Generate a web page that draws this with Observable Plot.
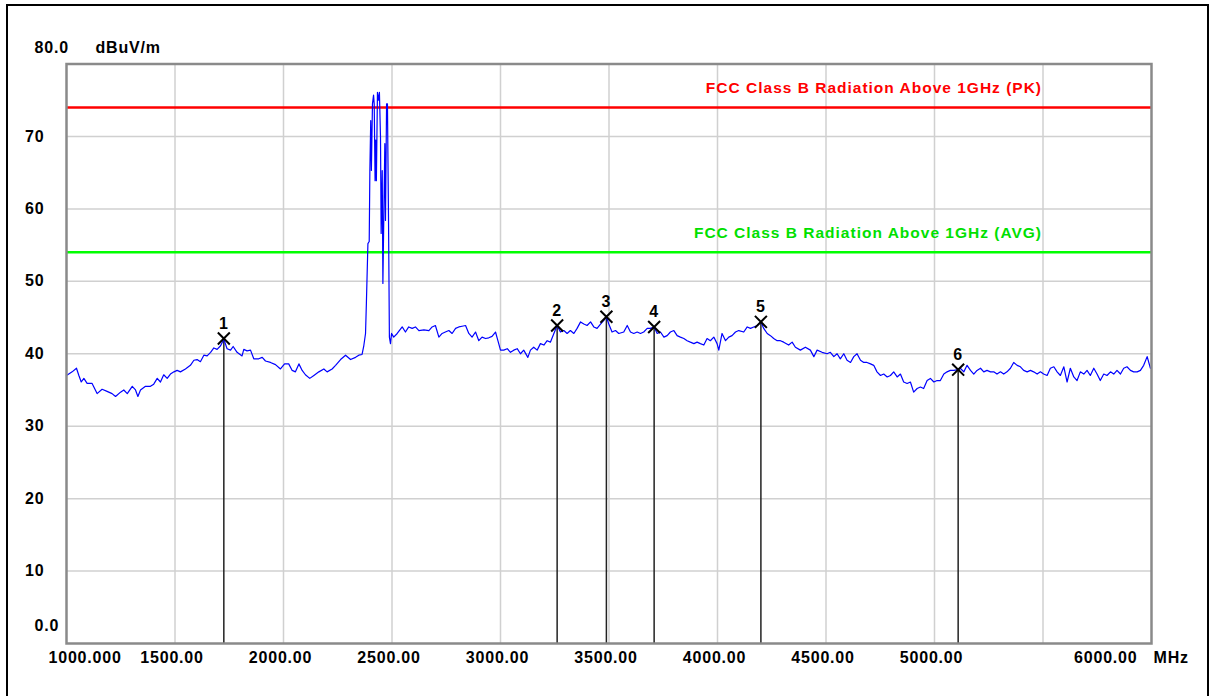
<!DOCTYPE html>
<html><head><meta charset="utf-8">
<script src="https://cdn.jsdelivr.net/npm/d3@7"></script>
<script src="https://cdn.jsdelivr.net/npm/@observablehq/plot@0.6"></script>
<style>
html,body{margin:0;padding:0;background:#fff;}
#wrap{position:relative;width:1213px;height:696px;overflow:hidden;background:#fff;}
#chart{position:absolute;left:0;top:0;}
#border{position:absolute;left:6px;top:4px;width:1203px;height:760px;border:2px solid #000;box-sizing:border-box;pointer-events:none;}
#chart svg text{letter-spacing:0.8px;}
#chart svg g.limits text{letter-spacing:1px;}
</style></head><body>
<div id="wrap"><div id="chart"></div><div id="border"></div></div>
<script>
// Spectrum trace (MHz, dBuV/m)
const freqMHz = [
1000,1026,1046,1057,1068,1080,1095,1118,1141,1164,1187,1210,1226,1249,1264,1280,1303,1318,1329,1341,
1364,1387,1402,1418,1433,1448,1464,1479,1495,1510,1525,1548,1571,1587,1602,1617,1633,1648,1664,1679,
1694,1710,1725,1740,1756,1768,1786,1809,1817,1832,1848,1863,1886,1902,1917,1940,1963,1986,2005,2024,
2040,2055,2071,2086,2101,2121,2140,2163,2186,2201,2224,2240,2263,2286,2309,2332,2347,2362,2370,
2378,2382,2389,2395,2398,2402,2405,2410,2415,2418,2422,2425,2428,2433,2438,2442,2447,2450,2455,2458,
2462,2467,2470,2475,2479,2484,2488,2493,2498,
2508,2524,2547,2562,2577,2593,2608,2624,2647,2670,2685,2700,2716,2731,2746,2762,2777,2793,2808,2823,
2839,2854,2869,2885,2900,2915,2931,2946,2961,2977,2988,3000,3015,3031,3046,3061,3077,3092,3107,3126,
3138,3153,3169,3184,3200,3215,3230,3246,3261,3276,3292,3307,3322,3338,3353,3369,3384,3399,3415,3430,
3445,3461,3476,3488,3499,3514,3530,3545,3568,3584,3599,3614,3630,3645,3660,3676,3691,3708,3722,3737,
3753,3768,3783,3799,3814,3829,3845,3860,3875,3891,3906,3921,3937,3952,3967,3983,3998,4006,4021,4037,
4052,4067,4083,4098,4121,4137,4152,4167,4183,4200,4213,4229,4244,4259,4275,4290,4305,4328,
4344,4359,4382,4405,4428,4444,4459,4482,4505,4520,4536,4551,4566,4582,4597,4613,4628,4643,4659,4674,
4689,4705,4720,4735,4751,4766,4782,4797,4812,4828,4843,4858,4874,4889,4904,4920,4935,4950,4966,4981,
4997,5012,5027,5043,5058,5073,5089,5109,5119,5135,5150,5166,5181,5196,5212,5227,5242,5258,5273,5288,
5304,5319,5334,5350,5365,5381,5396,5411,5427,5442,5457,5473,5488,5503,5519,5534,5550,5565,5580,5596,
5611,5626,5642,5657,5672,5688,5703,5718,5734,5749,5764,5780,5795,5811,5826,5841,5857,5872,5887,5903,
5918,5934,5949,5964,5980,5995,6000
];
const levelDb = [
37.0,37.5,38.0,37.0,36.1,36.6,35.9,35.9,34.5,35.1,34.8,34.5,34.1,34.7,35.0,34.5,35.5,35.0,34.1,35.0,
35.5,35.5,35.8,36.6,36.1,37.1,36.6,37.2,37.5,37.7,37.5,37.9,38.4,39.1,39.2,38.9,39.8,39.7,40.2,40.8,
40.6,41.1,42.0,40.7,40.5,41.0,40.2,39.7,40.6,40.4,40.5,39.3,39.3,39.5,39.0,38.8,38.5,37.9,38.6,38.6,
37.7,37.5,38.6,37.7,37.1,36.6,37.0,37.5,37.9,37.5,37.9,38.4,39.2,39.8,39.2,39.5,39.8,39.9,41.1,
42.8,47.0,55.2,55.5,65.3,72.2,65.3,74.5,75.7,74.5,63.9,69.5,63.9,76.1,75.0,76.1,69.9,56.6,65.3,49.7,
58.4,69.0,58.4,74.5,74.5,58.4,42.3,41.4,42.8,
42.3,42.8,43.7,43.0,43.7,43.5,43.7,43.2,43.3,43.2,43.7,43.9,42.3,42.8,43.0,43.2,42.8,43.5,43.7,43.8,
43.9,42.8,42.3,43.0,41.8,42.3,42.1,42.2,42.4,43.0,41.8,40.5,40.5,40.7,40.2,40.5,40.7,40.0,40.5,39.5,
40.5,40.9,40.5,41.4,41.2,41.8,41.6,42.8,43.9,43.0,43.2,42.8,43.2,42.8,43.5,44.4,44.1,43.9,44.4,43.7,
43.5,44.1,44.6,45.1,44.1,43.0,43.2,42.8,43.0,43.9,43.0,42.8,43.0,42.8,43.0,43.5,43.5,43.7,42.8,43.0,
42.3,42.5,43.0,43.2,42.5,42.3,42.1,41.8,41.6,41.4,41.6,41.4,41.2,42.1,41.8,42.3,41.4,40.5,42.8,41.8,
42.3,42.5,43.0,43.2,43.0,43.7,43.5,43.7,43.9,44.4,43.5,42.8,42.5,42.1,41.8,41.8,41.6,41.2,
41.6,40.9,40.5,40.9,40.5,39.6,40.5,40.2,40.0,40.2,39.6,40.0,39.3,40.0,39.1,38.8,39.6,40.0,39.1,38.8,
38.8,38.6,38.4,37.5,37.0,37.2,36.8,37.0,37.5,36.8,37.2,36.1,35.9,36.1,34.7,35.2,35.4,35.2,36.3,36.6,
36.1,36.3,36.3,37.2,37.5,37.7,37.7,37.8,38.0,37.5,38.4,37.7,37.2,37.7,38.0,37.5,37.7,37.5,37.5,37.2,
37.5,37.2,37.5,38.0,38.8,38.4,38.2,37.7,37.5,37.7,37.5,37.2,37.5,37.2,37.0,38.0,38.2,37.5,37.0,38.2,
36.1,38.0,36.8,36.3,37.5,37.2,37.7,37.0,38.0,37.2,36.3,37.2,37.0,37.5,37.2,37.7,37.2,38.0,38.2,37.7,
37.5,37.5,37.7,38.4,39.6,38.0,38.0
];

// Markers
const markerNo = ["1","2","3","4","5","6"];
const markerFreq = [1725, 3261, 3488, 3708, 4200, 5109];
const markerLevel = [42.1, 43.9, 45.1, 43.7, 44.4, 37.8];

// Limit lines
const limitName = ["FCC Class B Radiation Above 1GHz (PK)", "FCC Class B Radiation Above 1GHz (AVG)"];
const limitLevel = [74, 54];
const limitColor = ["#ff0000", "#00ff00"];
const limitTextColor = ["#ff0000", "#00e000"];

// Axes
const xGrid = [1500,2000,2500,3000,3500,4000,4500,5000,5500];
const xTickValue = [1000,1500,2000,2500,3000,3500,4000,4500,5000,6000];
const xTickLabel = ["1000.000","1500.00","2000.00","2500.00","3000.00","3500.00","4000.00","4500.00","5000.00","6000.00"];
const yTickValue = [0,10,20,30,40,50,60,70,80];
const yTickLabel = ["0.0","10","20","30","40","50","60","70","80.0"];
const xUnit = "MHz";
const yUnit = "dBuV/m";

const trace = freqMHz.map((f,i)=>({f, v: levelDb[i]}));
const markers = markerNo.map((n,i)=>({n, f: markerFreq[i], v: markerLevel[i]}));
const limits = limitName.map((name,i)=>({name, level: limitLevel[i], color: limitColor[i], tcolor: limitTextColor[i]}));
const yTicks = yTickValue.map((v,i)=>({v, label: yTickLabel[i]}));
const xTicks = xTickValue.map((v,i)=>({v, label: xTickLabel[i]}));
const yInner = yTicks.filter(d => d.v > 0 && d.v < 80);
const yBottom = yTicks.filter(d => d.v === 0);
const yTop = yTicks.filter(d => d.v === 80);
const xFirst = xTicks.slice(0,1), xMid = xTicks.slice(1,-1), xLast = xTicks.slice(-1);

const FONT = "'Liberation Sans', Arial, sans-serif";
const T = {fontFamily: FONT, fontWeight: "bold", fontSize: 16, fill: "#000"};

const chart = Plot.plot({
  width: 1213, height: 696,
  marginLeft: 66, marginRight: 62, marginTop: 63.5, marginBottom: 53,
  x: {domain: [1000, 6000], axis: null},
  y: {domain: [0, 80], axis: null},
  color: {type: "identity"},
  style: {background: "transparent", fontFamily: FONT},
  marks: [
    Plot.ruleX(xGrid, {stroke: "#d0d0d0", strokeWidth: 1.5}),
    Plot.ruleY(yInner, {y: "v", stroke: "#d0d0d0", strokeWidth: 1.5}),
    Plot.ruleY(limits, {y: "level", stroke: "color", strokeWidth: 2.5}),
    Plot.text(limits, {x: 5500, y: "level", text: "name", fill: "tcolor", textAnchor: "end", dy: -19, dx: -1, fontFamily: FONT, fontWeight: "bold", fontSize: 15.5, className: "limits"}),
    Plot.ruleX(markers, {x: "f", y1: 0, y2: "v", stroke: "#222", strokeWidth: 1.5}),
    Plot.line(trace, {x: "f", y: "v", stroke: "#0000ff", strokeWidth: 1.2}),
    Plot.dot(markers, {x: "f", y: "v", symbol: "times", r: 5.5, stroke: "#000", strokeWidth: 2}),
    Plot.text(markers, {x: "f", y: "v", text: "n", dy: -15, ...T}),
    Plot.frame({stroke: "#8a8a8a", strokeWidth: 2.5}),
    // y tick labels
    Plot.text(yInner, {x: 1000, y: "v", text: "label", dx: -22, textAnchor: "end", ...T}),
    Plot.text(yTop, {x: 1000, y: "v", text: "label", dx: -32, dy: -16, textAnchor: "start", ...T}),
    Plot.text(yBottom, {x: 1000, y: "v", text: "label", dx: -32, dy: -18, textAnchor: "start", ...T}),
    Plot.text([yUnit], {x: 1000, y: 80, text: d => d, dx: 29, dy: -16, textAnchor: "start", ...T}),
    // x tick labels
    Plot.text(xFirst, {x: "v", y: 0, text: "label", dx: -18, dy: 14, textAnchor: "start", ...T}),
    Plot.text(xMid, {x: "v", y: 0, text: "label", dx: -3, dy: 14, textAnchor: "middle", ...T}),
    Plot.text(xLast, {x: "v", y: 0, text: "label", dx: -14, dy: 14, textAnchor: "end", ...T}),
    Plot.text([xUnit], {x: 6000, y: 0, text: d => d, dx: 2, dy: 14, textAnchor: "start", ...T})
  ]
});
document.getElementById("chart").appendChild(chart);
</script>
</body></html>
